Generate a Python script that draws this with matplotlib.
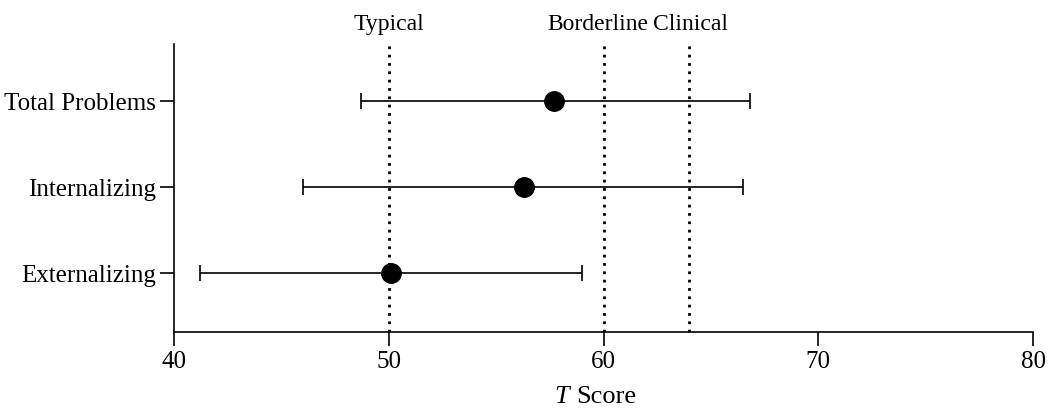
import matplotlib
matplotlib.use("Agg")
import matplotlib.pyplot as plt

# scales, bottom to top
scales = ["Externalizing", "Internalizing", "Total Problems"]
t_scores = [50.1, 56.3, 57.7]
ci_low = [41.2, 46.0, 48.7]
ci_high = [59.0, 66.5, 66.8]

# cut-off lines
cutoffs = [50, 60, 64]
cutoff_labels = ["Typical", "Borderline", "Clinical"]

x_ticks = [40, 50, 60, 70, 80]

plt.rcParams['font.family'] = ['Liberation Serif', 'DejaVu Serif']

fig = plt.figure(figsize=(10.51, 4.14), dpi=100)
ax = fig.add_axes([0.1656, 0.1957, 0.8174, 0.6953])

ypos = list(range(len(scales)))
err_lo = [m - lo for m, lo in zip(t_scores, ci_low)]
err_hi = [hi - m for m, hi in zip(t_scores, ci_high)]
ax.errorbar(t_scores, ypos, xerr=[err_lo, err_hi], fmt='o', color='black',
            markersize=14, elinewidth=1.2, capsize=6, capthick=1.2, zorder=3)

for c in cutoffs:
    ax.axvline(c, color='black', linestyle=(0, (1, 2)), linewidth=2, zorder=1)

label_offsets = [0, -0.25, 0.05]
for c, lab, off in zip(cutoffs, cutoff_labels, label_offsets):
    ax.text(c + off, 1.035, lab, transform=ax.get_xaxis_transform(),
            ha='center', va='bottom', fontsize=17)

ax.set_xlim(40, 80)
ax.set_ylim(-0.686, 2.66)
ax.set_xticks(x_ticks)
ax.set_yticks(ypos)
ax.set_yticklabels(scales)
ax.tick_params(axis='both', labelsize=18, length=10, width=1.2, direction='out', pad=3)
ax.spines['top'].set_visible(False)
ax.spines['right'].set_visible(False)
for s in ['left', 'bottom']:
    ax.spines[s].set_linewidth(1.2)

# x label: italic T followed by Score
ax.text(0.468, -0.222, 'Score', transform=ax.transAxes, ha='left', va='center', fontsize=19)
ax.text(0.468, -0.222, 'T ', transform=ax.transAxes, ha='right', va='center',
        fontsize=19, style='italic')

fig.savefig("out.png", dpi=100)
